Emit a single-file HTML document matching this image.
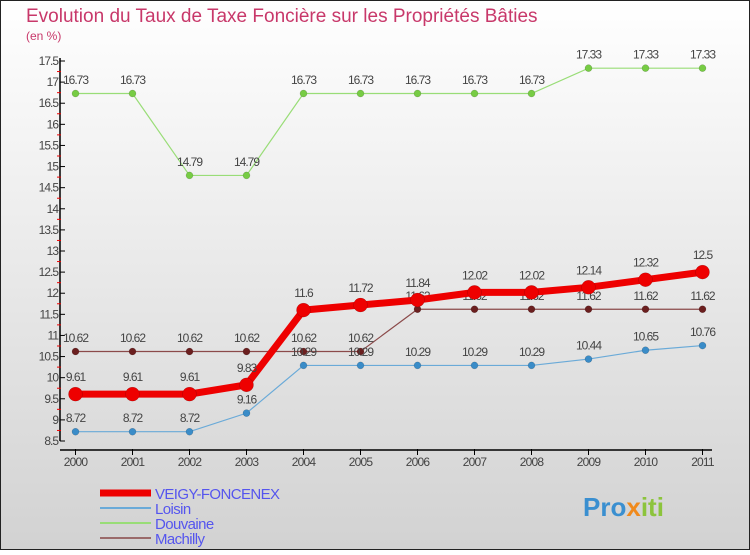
<!DOCTYPE html>
<html><head><meta charset="utf-8"><style>
html,body{margin:0;padding:0}
body{width:750px;height:550px;overflow:hidden;font-family:"Liberation Sans",sans-serif}
</style></head><body>
<svg id="chart" width="750" height="550" xmlns="http://www.w3.org/2000/svg">
<defs><linearGradient id="bg" x1="0" y1="0" x2="0" y2="1"><stop offset="0" stop-color="#ffffff"/><stop offset="1" stop-color="#d2d2d2"/></linearGradient></defs>
<rect x="0.5" y="0.5" width="749" height="549" fill="url(#bg)" stroke="#222" stroke-width="1"/>
<text x="26" y="22" font-size="19" fill="#c8386a">Evolution du Taux de Taxe Foncière sur les Propriétés Bâties</text>
<text x="26" y="40" font-size="12" fill="#c8386a">(en %)</text>
<g id="axes"></g><g id="series"></g><g id="legend"></g>
<text x="583" y="516" font-size="26" font-weight="bold" fill="#3a8fd0">Pro<tspan fill="#f08a1c">x</tspan><tspan fill="#8cc43c">iti</tspan></text>
</svg>
<script>
const years=[2000,2001,2002,2003,2004,2005,2006,2007,2008,2009,2010,2011];
const yTicks=[8.5,9,9.5,10,10.5,11,11.5,12,12.5,13,13.5,14,14.5,15,15.5,16,16.5,17,17.5];
const veigy=[9.61,9.61,9.61,9.83,11.6,11.72,11.84,12.02,12.02,12.14,12.32,12.5];
const loisin=[8.72,8.72,8.72,9.16,10.29,10.29,10.29,10.29,10.29,10.44,10.65,10.76];
const douvaine=[16.73,16.73,14.79,14.79,16.73,16.73,16.73,16.73,16.73,17.33,17.33,17.33];
const machilly=[10.62,10.62,10.62,10.62,10.62,10.62,11.62,11.62,11.62,11.62,11.62,11.62];
const NS="http://www.w3.org/2000/svg";
const X=i=>75.5+i*57, Y=v=>441-(v-8.5)*(380/9);
function mk(t,a,p){const e=document.createElementNS(NS,t);for(const k in a)e.setAttribute(k,a[k]);p.appendChild(e);return e;}
const ax=document.getElementById('axes');
let e=mk('line',{x1:60,y1:58,x2:60,y2:441,stroke:'#000','stroke-width':1.5},ax);


yTicks.forEach((v,i)=>{
  const l=mk('line',{x1:60,y1:Y(v),x2:65,y2:Y(v),stroke:'#000'},ax);
  
  
  if(i<yTicks.length-1){mk('line',{x1:57,y1:Y(v+0.25),x2:61,y2:Y(v+0.25),stroke:'#e00'},ax);}
  const t=mk('text',{x:58,y:Y(v)+4,'text-anchor':'end','font-size':12,fill:'#444','letter-spacing':'-1'},ax);
  t.textContent=String(v);
  
  
});
e=mk('line',{x1:60,y1:450,x2:712,y2:450,stroke:'#000','stroke-width':1.5},ax);


years.forEach((y,i)=>{
  mk('line',{x1:X(i),y1:449,x2:X(i),y2:455,stroke:'#000'},ax);
  const t=mk('text',{x:X(i),y:466,'text-anchor':'middle','font-size':12,fill:'#444','letter-spacing':'-0.8'},ax);
  t.textContent=y;
  
  
});
const sg=document.getElementById('series');
function series(name,vals,color,dot,w,r){
  const g=mk('g',{},sg);
  
  
  mk('polyline',{points:vals.map((v,i)=>X(i)+','+Y(v)).join(' '),fill:'none',stroke:color,'stroke-width':w},g);
  vals.forEach((v,i)=>{
    const c=mk('circle',{cx:X(i),cy:Y(v),r:r,fill:dot,stroke:'rgba(0,0,0,0.25)','stroke-width':0.5},g);
    
    
    const t=mk('text',{x:X(i),y:Y(v)-(r+6),'text-anchor':'middle','font-size':12,fill:'#444','letter-spacing':'-1'},g);
    t.textContent=String(v);
    
    
  });
}
series('machilly',machilly,'#8b4a4a','#6b1f1f',1.2,3.5);
series('douvaine',douvaine,'#99dd77','#77cc44',1.2,3.5);
series('loisin',loisin,'#6aaad8','#3a8cc8',1.2,3.5);
series('veigy',veigy,'#ee0000','#ee0000',7,7);
const lg=document.getElementById('legend');
const items=[['VEIGY-FONCENEX','#ee0000',7],['Loisin','#6aaad8',2],['Douvaine','#99dd77',2],['Machilly','#9a6a6a',2]];
items.forEach((it,i)=>{
  const y=493+i*15;
  const g=mk('g',{},lg);
  
  
  mk('line',{x1:100,y1:y,x2:151,y2:y,stroke:it[1],'stroke-width':it[2]},g);
  const t=mk('text',{x:155,y:y+6,'font-size':15,fill:'#5555ee','letter-spacing':'-0.6'},g);
  t.textContent=it[0];
});
</script>
</body></html>
